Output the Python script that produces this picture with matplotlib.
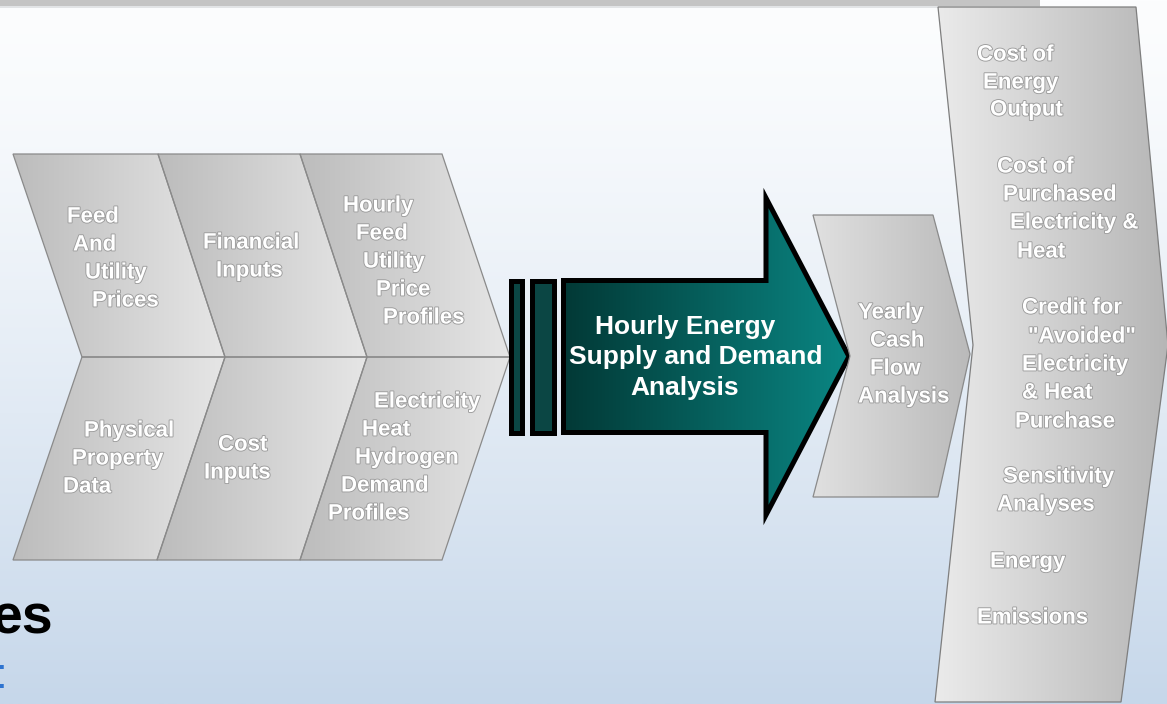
import numpy as np
import matplotlib
matplotlib.use('Agg')
import matplotlib.pyplot as plt
import matplotlib.patheffects as pe
from matplotlib.patches import Polygon
from matplotlib.colors import to_rgb

plt.rcParams['font.family'] = ['Liberation Sans', 'DejaVu Sans']

# Text of the diagram
cell_labels = [
    ['Feed', 'And', 'Utility', 'Prices'],
    ['Financial', 'Inputs'],
    ['Hourly', 'Feed', 'Utility', 'Price', 'Profiles'],
    ['Physical', 'Property', 'Data'],
    ['Cost', 'Inputs'],
    ['Electricity', 'Heat', 'Hydrogen', 'Demand', 'Profiles'],
]
center_label = ['Hourly Energy', 'Supply and Demand', 'Analysis']
cash_label = ['Yearly', 'Cash', 'Flow', 'Analysis']
output_label = ['Cost of', 'Energy', 'Output', 'Cost of', 'Purchased', 'Electricity &', 'Heat',
                'Credit for', '"Avoided"', 'Electricity', '& Heat', 'Purchase',
                'Sensitivity', 'Analyses', 'Energy', 'Emissions']

# line anchors (pixels) for the texts above
cell_x = [[67, 73, 85, 92], [203, 216], [343, 356, 363, 376, 383],
          [84, 72, 63], [218, 204], [374, 362, 355, 341, 328]]
cell_y = [[217, 245, 273, 301], [243, 271], [206, 234, 262, 290, 318],
          [431, 459, 487], [445, 473], [402, 430, 458, 486, 514]]
center_x = [685, 696, 685]
center_y = [327, 357, 388]
cash_x = [858, 870, 870, 858]
cash_y = [313, 341, 369, 397]
output_x = [977, 983, 990, 997, 1003, 1010, 1017, 1022, 1028, 1022, 1022, 1015, 1003, 997, 990, 977]
output_y = [55, 83, 110, 167, 195, 223, 252, 308, 337, 365, 393, 422, 477, 505, 562, 618]

W, H = 1167, 704
fig = plt.figure(figsize=(W / 100, H / 100), dpi=100)
ax = fig.add_axes([0, 0, 1, 1])


def grad_fill(verts, c0, c1, z, vertical=False):
    poly = Polygon(verts, closed=True, fc='none', ec='none', zorder=z)
    ax.add_patch(poly)
    xs = [v[0] for v in verts]
    ys = [v[1] for v in verts]
    t = np.linspace(0, 1, 256)
    cols = np.outer(1 - t, to_rgb(c0)) + np.outer(t, to_rgb(c1))
    img = cols[:, None, :] if vertical else cols[None, :, :]
    im = ax.imshow(img, extent=(min(xs), max(xs), max(ys), min(ys)), aspect='auto',
                   interpolation='bilinear', zorder=z)
    im.set_clip_path(poly)


def outline(verts, color, lw, z, fc='none'):
    ax.add_patch(Polygon(verts, closed=True, fc=fc, ec=color, lw=lw, zorder=z, joinstyle='miter'))


# background
t = np.linspace(0, 1, 256) ** 1.3
bg = np.outer(1 - t, to_rgb('#fcfdfe')) + np.outer(t, to_rgb('#c6d7ea'))
ax.imshow(bg[:, None, :], extent=(0, W, H, 0), aspect='auto', interpolation='bilinear', zorder=0)
ax.add_patch(Polygon([(0, 0), (1040, 0), (1040, 6), (0, 6)], fc='#c4c4c4', ec='none', zorder=1))
ax.add_patch(Polygon([(0, 6), (1040, 6), (1040, 8), (0, 8)], fc='#e2e4e6', ec='none', zorder=1))

gray_txt = dict(color='white', fontsize=16, fontweight='bold', va='center', ha='left', zorder=10,
                path_effects=[pe.withStroke(linewidth=1.3, foreground='#9c9c9c')])

# left chevron grid
cells = [
    [(13, 154), (158, 154), (225, 357), (82, 357)],
    [(158, 154), (300, 154), (367, 357), (225, 357)],
    [(300, 154), (442, 154), (510, 357), (367, 357)],
    [(82, 357), (225, 357), (157, 560), (13, 560)],
    [(225, 357), (367, 357), (300, 560), (157, 560)],
    [(367, 357), (510, 357), (442, 560), (300, 560)],
]
for verts, lines, xs, ys in zip(cells, cell_labels, cell_x, cell_y):
    grad_fill(verts, '#bcbcbc', '#e6e6e6', 2)
    outline(verts, '#8a8a8a', 0.9, 3)
    for s, x, y in zip(lines, xs, ys):
        ax.text(x, y, s, **gray_txt)

# teal arrow with two bars
for bx0, bx1 in [(510.5, 521.5), (531.5, 553.5)]:
    bar = [(bx0, 280.5), (bx1, 280.5), (bx1, 432.5), (bx0, 432.5)]
    outline(bar, 'black', 3.6, 5, fc='#0b4644')
arrow = [(563.5, 280.5), (766, 280.5), (766, 198), (849, 356.5), (766, 515), (766, 432.5), (563.5, 432.5)]
grad_fill(arrow, '#023936', '#0a8683', 4)
outline(arrow, 'black', 3.6, 5)
for s, x, y in zip(center_label, center_x, center_y):
    ax.text(x, y, s, color='white', fontsize=19, fontweight='bold', ha='center', va='center', zorder=10)

# right output band
out_shape = [(938, 7), (1136, 7), (1168, 345), (1121, 702), (935, 702), (973, 345)]
grad_fill(out_shape, '#ebebeb', '#b6b6b6', 6)
outline(out_shape, '#7e7e7e', 0.9, 7)
for s, x, y in zip(output_label, output_x, output_y):
    ax.text(x, y, s, **gray_txt)

# yearly cash flow chevron
cash = [(813, 215), (933, 215), (970, 354), (938, 497), (813, 497), (850, 356)]
grad_fill(cash, '#e0e0e0', '#bababa', 8)
outline(cash, '#8a8a8a', 0.9, 9)
for s, x, y in zip(cash_label, cash_x, cash_y):
    ax.text(x, y, s, **gray_txt)

# cut-off slide text at the lower left
ax.text(54, 633, 'es', color='black', fontsize=40, fontweight='bold', ha='right', va='baseline', zorder=10)
ax.text(1, 688, ':', color='#2f74d0', fontsize=30, ha='center', va='baseline', zorder=10)

ax.set_xlim(0, W)
ax.set_ylim(H, 0)
ax.axis('off')
fig.savefig('out.png', dpi=100)
